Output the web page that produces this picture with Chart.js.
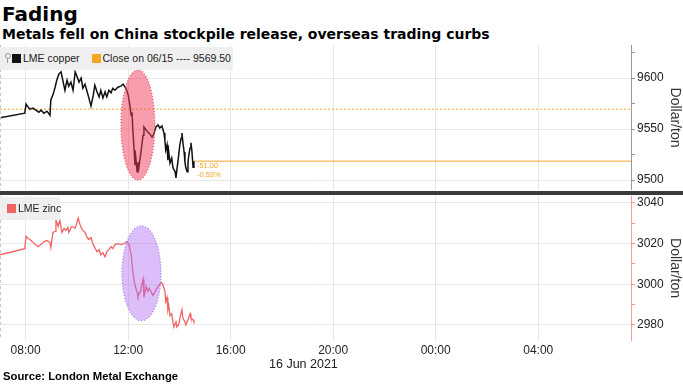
<!DOCTYPE html>
<html>
<head>
<meta charset="utf-8">
<script src="https://cdn.jsdelivr.net/npm/chart.js@4.4.0/dist/chart.umd.min.js"></script>
<style>
  body { margin: 0; width: 683px; height: 384px; position: relative; background: #fff; overflow: hidden; font-family: "Liberation Sans", Arial, sans-serif; color: #000; }
  .title { position: absolute; left: 2px; top: 3px; font-family: "DejaVu Sans", sans-serif; font-size: 20px; font-weight: bold; line-height: 1.16; }
  .subtitle { position: absolute; left: 2px; top: 26px; font-family: "DejaVu Sans", sans-serif; font-size: 14px; font-weight: bold; line-height: 1.16; }
  .source { position: absolute; left: 3px; top: 370px; font-size: 11.3px; font-weight: bold; }
  .date { position: absolute; left: 269px; top: 357px; font-size: 12.5px; color: #222; }
  #topWrap { position: absolute; left: 0; top: 45px; width: 683px; height: 145px; }
  #botWrap { position: absolute; left: 0; top: 196px; width: 683px; height: 164px; }
  .sep { position: absolute; left: 0; top: 191px; width: 683px; height: 4px; background: #3a3a3a; }
  .legend { position: absolute; left: 0; height: 23px; background: #efefef; font-size: 10.5px; color: #222; line-height: 23px; white-space: nowrap; }
  .legend .sq { display: inline-block; width: 9px; height: 9px; vertical-align: -1px; margin-right: 2px; }
  .pin { display: inline-block; width: 4px; height: 4px; border: 1px solid #999; border-radius: 3px; margin: 0 1px 0 5px; vertical-align: 3px; position: relative; }
  .pin:after { content: ""; position: absolute; left: 1px; top: 5px; width: 1px; height: 4px; background: #999; }
</style>
</head>
<body>
<div class="title">Fading</div>
<div class="subtitle">Metals fell on China stockpile release, overseas trading curbs</div>

<div id="topWrap"><canvas id="copperChart"></canvas></div>
<div class="sep"></div>
<div id="botWrap"><canvas id="zincChart"></canvas></div>

<div class="legend" style="top:47px; width:233px;">
  <span class="pin"></span><span class="sq" style="background:#111;"></span>LME copper
  <span class="sq" style="background:#f5a623; margin-left:9px;"></span>Close on 06/15 ---- 9569.50
</div>
<div class="legend" style="top:197px; width:60px;">
  <span class="sq" style="background:#f06464; margin-left:7px;"></span>LME zinc
</div>

<div class="date">16 Jun 2021</div>
<div class="source">Source: London Metal Exchange</div>

<script>
// LME copper, 16 Jun 2021 (local time)
const copperTimes = ["07:00","07:58","08:01","08:06","08:10","08:17","08:24","08:31","08:36","08:43","08:50","08:57","08:59","09:04","09:09","09:13","09:18","09:23","09:27","09:32","09:37","09:41","09:46","09:51","09:56","10:00","10:05","10:10","10:14","10:19","10:24","10:28","10:33","10:38","10:42","10:47","10:52","10:56","11:01","11:06","11:10","11:15","11:20","11:24","11:29","11:36","11:43","11:48","11:55","12:00","12:04","12:07","12:09","12:11","12:14","12:16","12:18","12:21","12:23","12:25","12:30","12:35","12:37","12:42","12:46","12:51","12:56","13:00","13:05","13:10","13:14","13:19","13:24","13:26","13:28","13:31","13:33","13:35","13:38","13:42","13:45","13:50","13:52","13:54","13:57","14:01","14:04","14:06","14:08","14:11","14:13","14:15","14:18","14:20","14:22","14:25","14:27","14:29","14:32","14:34"];
const copperValues = [9561,9565.5,9574.5,9571.5,9569.5,9570.5,9568.5,9566.5,9568.5,9565.5,9567.5,9563.5,9578.5,9583.5,9591,9598,9604,9606,9598,9588,9598,9592,9596,9588,9606,9602,9596,9600,9590,9594,9586.5,9580.5,9572.5,9582.5,9593,9586.5,9581.5,9588,9580.5,9586.5,9581.5,9588,9585.5,9590,9588,9591,9592,9594,9590,9583.5,9573.5,9563.5,9566.5,9549,9529.5,9514.5,9521.5,9508,9517.5,9512,9527.5,9544,9552,9549,9547,9545,9542,9545,9552,9554,9551,9553,9546,9539,9529.5,9534.5,9519.5,9527.5,9516.5,9521.5,9512,9508,9502,9510,9519.5,9534.5,9541,9546,9537.5,9527.5,9517.5,9512,9508,9516.5,9524.5,9531.5,9536.5,9529.5,9512.5,9518.5];

// LME zinc
const zincTimes = ["07:00","07:58","08:01","08:06","08:13","08:20","08:29","08:36","08:43","08:50","08:57","08:59","09:04","09:09","09:11","09:16","09:20","09:25","09:30","09:34","09:39","09:41","09:48","09:56","10:03","10:07","10:12","10:19","10:24","10:28","10:33","10:38","10:42","10:47","10:52","10:56","11:01","11:06","11:10","11:15","11:20","11:24","11:29","11:36","11:43","11:50","11:57","12:02","12:07","12:11","12:16","12:21","12:23","12:28","12:30","12:35","12:37","12:42","12:46","12:49","12:53","12:58","13:03","13:07","13:12","13:17","13:21","13:26","13:28","13:31","13:33","13:35","13:38","13:42","13:45","13:47","13:52","13:54","13:59","14:01","14:06","14:08","14:13","14:15","14:20","14:25","14:27","14:32","14:34"];
const zincValues = [3014.5,3017.5,3023.5,3022.5,3021.5,3020,3018.5,3019.5,3021,3021.5,3020.5,3018,3025.5,3026,3031.5,3028.5,3031.5,3025.5,3027.5,3026.5,3028,3025.5,3028.5,3027.5,3032.5,3029.5,3027,3025.5,3023,3022,3023,3019.5,3018,3016,3017,3014.5,3015.5,3013.5,3016,3017,3018.5,3017.5,3019.5,3020,3019.5,3020,3021,3019.5,3014.5,3006,2999.5,2996,2994,2996.5,2998,3002.5,2993.5,2999,2996.5,2998,2996.5,2994.5,2996.5,2998,2999.5,3001,3000,2996.5,2991.5,2993.5,2987.5,2989.5,2984.5,2985.5,2981.5,2979,2981.5,2979,2980.5,2983.5,2987.5,2983.5,2981.5,2980,2982.5,2985.5,2983.5,2982.5,2981.5];

const prevClose = 9569.5;          // close on 06/15
const xTickHours = [8, 12, 16, 20, 24, 28];
const copperTicks = [9500, 9550, 9600];
const zincTicks = [2980, 3000, 3020, 3040];

const ORANGE = '#f5a623';
const ZINC = '#f06464';
const X_MIN = 7, X_MAX = 31.62;

Chart.defaults.font.family = '"Liberation Sans", Arial, sans-serif';
Chart.defaults.color = '#333';

function toHours(s) {
    const p = s.split(':');
    return +p[0] + p[1] / 60;
}
function pairs(times, values) {
    return times.map((t, i) => ({ x: toHours(t), y: values[i] }));
}

// dashed left edge, circled areas, change labels
const panelExtras = {
    id: 'panelExtras',
    afterDatasetsDraw(chart, args, opts) {
        const { ctx, chartArea, scales } = chart;
        const x = scales.x, y = scales.y;
        ctx.save();
        ctx.strokeStyle = '#c8c8c8';
        ctx.lineWidth = 1;
        ctx.setLineDash([3, 3]);
        ctx.beginPath();
        ctx.moveTo(chartArea.left + 0.5, chartArea.top);
        ctx.lineTo(chartArea.left + 0.5, chartArea.bottom);
        ctx.stroke();
        ctx.restore();

        (opts.ellipses || []).forEach(e => {
            const cx = x.getPixelForValue(e.t);
            const cy = y.getPixelForValue(e.v);
            const rx = Math.abs(x.getPixelForValue(e.t + e.rt) - cx);
            const ry = Math.abs(y.getPixelForValue(e.v + e.rv) - cy);
            ctx.save();
            ctx.beginPath();
            ctx.ellipse(cx, cy, rx, ry, 0, 0, Math.PI * 2);
            ctx.fillStyle = e.fill;
            ctx.fill();
            ctx.setLineDash([1, 2]);
            ctx.lineWidth = 1.3;
            ctx.strokeStyle = e.stroke;
            ctx.stroke();
            ctx.restore();
        });

        if (opts.change) {
            const last = copperValues[copperValues.length - 1];
            const lx = x.getPixelForValue(toHours(copperTimes[copperTimes.length - 1])) + 3;
            const ly = y.getPixelForValue(last);
            const diff = last - prevClose;
            const pct = diff / prevClose * 100;
            ctx.save();
            ctx.fillStyle = ORANGE;
            ctx.font = '7.5px "Liberation Sans", sans-serif';
            ctx.textBaseline = 'middle';
            ctx.fillText(diff.toFixed(2), lx, ly + 5);
            ctx.fillText(pct.toFixed(2) + '%', lx, ly + 14);
            ctx.restore();
        }
    }
};

function xScale(showLabels) {
    return {
        type: 'linear',
        min: X_MIN,
        max: X_MAX,
        afterBuildTicks(scale) {
            scale.ticks = xTickHours.map(v => ({ value: v }));
        },
        afterFit(scale) {
            scale.height = showLabels ? 20 : 0;
            scale.paddingLeft = 0;
            scale.paddingRight = 0;
        },
        grid: { color: '#e6e6e6', drawTicks: false },
        border: { display: false },
        ticks: {
            display: showLabels,
            padding: 3,
            color: '#222',
            font: { size: 12 },
            maxRotation: 0,
            autoSkip: false,
            callback: v => String(v % 24).padStart(2, '0') + ':00'
        }
    };
}

function yScale(min, max, step, majors, axisColor) {
    return {
        position: 'right',
        min: min,
        max: max,
        afterBuildTicks(scale) {
            const out = [];
            for (let v = Math.ceil(min / step) * step; v <= max; v += step) out.push({ value: v });
            scale.ticks = out;
        },
        afterFit(scale) {
            scale.width = 52;
            scale.paddingTop = 0;
            scale.paddingBottom = 0;
        },
        grid: {
            color: c => majors.includes(c.tick.value) ? '#e8e8e8' : 'rgba(0,0,0,0)',
            tickColor: axisColor,
            tickLength: 4
        },
        border: { display: true, color: axisColor, width: 1 },
        ticks: {
            padding: 2,
            color: '#222',
            font: { size: 12 },
            callback: v => majors.includes(v) ? String(v) : ''
        },
        title: {
            display: true,
            text: 'Dollar/ton',
            color: '#333',
            font: { size: 14 },
            padding: { top: 0, bottom: 2 }
        }
    };
}

const copperData = pairs(copperTimes, copperValues);
const lastCopper = copperData[copperData.length - 1];

new Chart(document.getElementById('copperChart'), {
    type: 'line',
    data: {
        datasets: [{
            label: 'LME copper',
            data: copperData,
            borderColor: '#111',
            borderWidth: 1.5,
            pointRadius: 0,
            tension: 0
        }, {
            label: 'Close on 06/15',
            data: [{ x: X_MIN, y: prevClose }, { x: X_MAX, y: prevClose }],
            borderColor: ORANGE,
            borderWidth: 1,
            borderDash: [2, 2],
            pointRadius: 0
        }, {
            label: 'last',
            data: [{ x: lastCopper.x, y: lastCopper.y }, { x: X_MAX, y: lastCopper.y }],
            borderColor: ORANGE,
            borderWidth: 1,
            pointRadius: 0
        }]
    },
    options: {
        responsive: true,
        maintainAspectRatio: false,
        animation: false,
        layout: { padding: 0 },
        scales: {
            x: xScale(false),
            y: yScale(9490.2, 9632.4, 25, copperTicks, '#999')
        },
        plugins: {
            legend: { display: false },
            tooltip: { enabled: false },
            panelExtras: {
                ellipses: [{ t: 12.38, v: 9554, rt: 0.66, rv: 54, fill: 'rgba(240,60,90,0.5)', stroke: '#e8506a' }],
                change: true
            }
        }
    },
    plugins: [panelExtras]
});

new Chart(document.getElementById('zincChart'), {
    type: 'line',
    data: {
        datasets: [{
            label: 'LME zinc',
            data: pairs(zincTimes, zincValues),
            borderColor: ZINC,
            borderWidth: 1.3,
            pointRadius: 0,
            tension: 0
        }]
    },
    options: {
        responsive: true,
        maintainAspectRatio: false,
        animation: false,
        layout: { padding: 0 },
        scales: {
            x: xScale(true),
            y: yScale(2972.6, 3043.4, 10, zincTicks, '#f29a9a')
        },
        plugins: {
            legend: { display: false },
            tooltip: { enabled: false },
            panelExtras: {
                ellipses: [{ t: 12.52, v: 3005.4, rt: 0.76, rv: 23.3, fill: 'rgba(175,110,245,0.45)', stroke: '#a070f0' }]
            }
        }
    },
    plugins: [panelExtras]
});
</script>
</body>
</html>
